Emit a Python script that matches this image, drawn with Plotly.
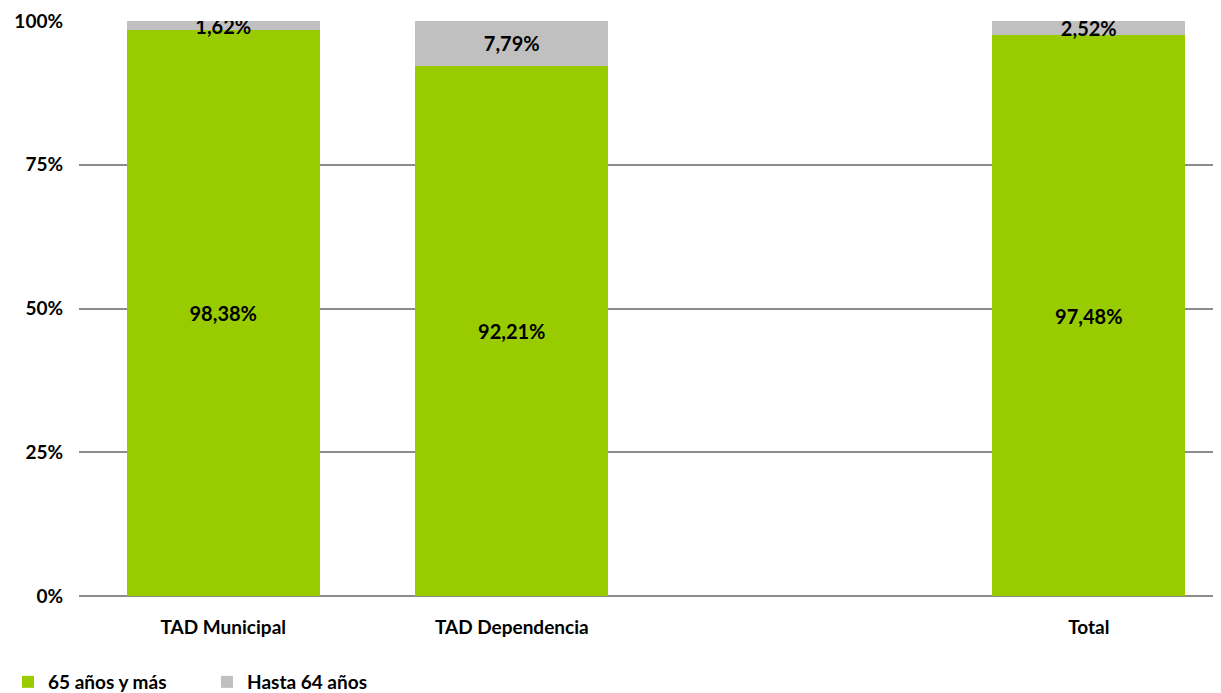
import plotly.graph_objects as go

categories = ["TAD Municipal", "TAD Dependencia", " ", "Total"]
mayores_65 = [98.38, 92.21, None, 97.48]
hasta_64 = [1.62, 7.79, None, 2.52]
tick_vals = [0, 25, 50, 75, 100]
tick_text = ["0%", "25%", "50%", "75%", "100%"]

def fmt(v):
    return "" if v is None else f"{v:.2f}%".replace(".", ",")

FONT = "Lato"
TXT = dict(family=FONT, size=20, color="#000000", weight="bold")

fig = go.Figure()
fig.add_trace(go.Bar(
    x=categories, y=mayores_65, name="65 años y más",
    marker=dict(color="#99CC00", line=dict(width=0)),
    text=[fmt(v) for v in mayores_65], textposition="inside",
    insidetextanchor="middle", constraintext="none",
    textfont=TXT, hoverinfo="skip", width=0.669,
))
fig.add_trace(go.Bar(
    x=categories, y=hasta_64, name="Hasta 64 años",
    marker=dict(color="#C0C0C0", line=dict(width=0)),
    text=[fmt(v) for v in hasta_64], textposition="inside",
    insidetextanchor="middle", constraintext="none",
    textfont=TXT, hoverinfo="skip", width=0.669,
))

fig.update_layout(
    width=1221, height=693,
    barmode="stack",
    plot_bgcolor="white", paper_bgcolor="white",
    margin=dict(l=71, r=0, t=13, b=105, autoexpand=False),
    font=dict(family=FONT, size=19, color="#000000", weight="bold"),
    showlegend=True,
    legend=dict(
        orientation="h", xref="container", yref="container",
        x=-0.012, y=-0.022, xanchor="left", yanchor="bottom",
        font=dict(family=FONT, size=19, color="#000000", weight="bold"),
        entrywidth=154, entrywidthmode="pixels",
        itemwidth=30, traceorder="normal",
        bgcolor="rgba(0,0,0,0)",
    ),
    xaxis=dict(
        type="category", range=[-0.5, 3.486], automargin=False,
        showgrid=False, showline=False, zeroline=False,
        ticks="", ticklabelstandoff=18,
        tickfont=dict(family=FONT, size=19, color="#000000", weight="bold"),
    ),
    yaxis=dict(
        range=[0, 100], tickvals=tick_vals, ticktext=tick_text, automargin=False,
        showgrid=True, gridcolor="#8c8c8c", gridwidth=1.5,
        zeroline=True, zerolinecolor="#8c8c8c", zerolinewidth=1.5,
        showline=False, ticks="", ticklabelstandoff=15,
        tickfont=dict(family=FONT, size=19, color="#000000", weight="bold"),
    ),
)

fig.write_html("out.html")
